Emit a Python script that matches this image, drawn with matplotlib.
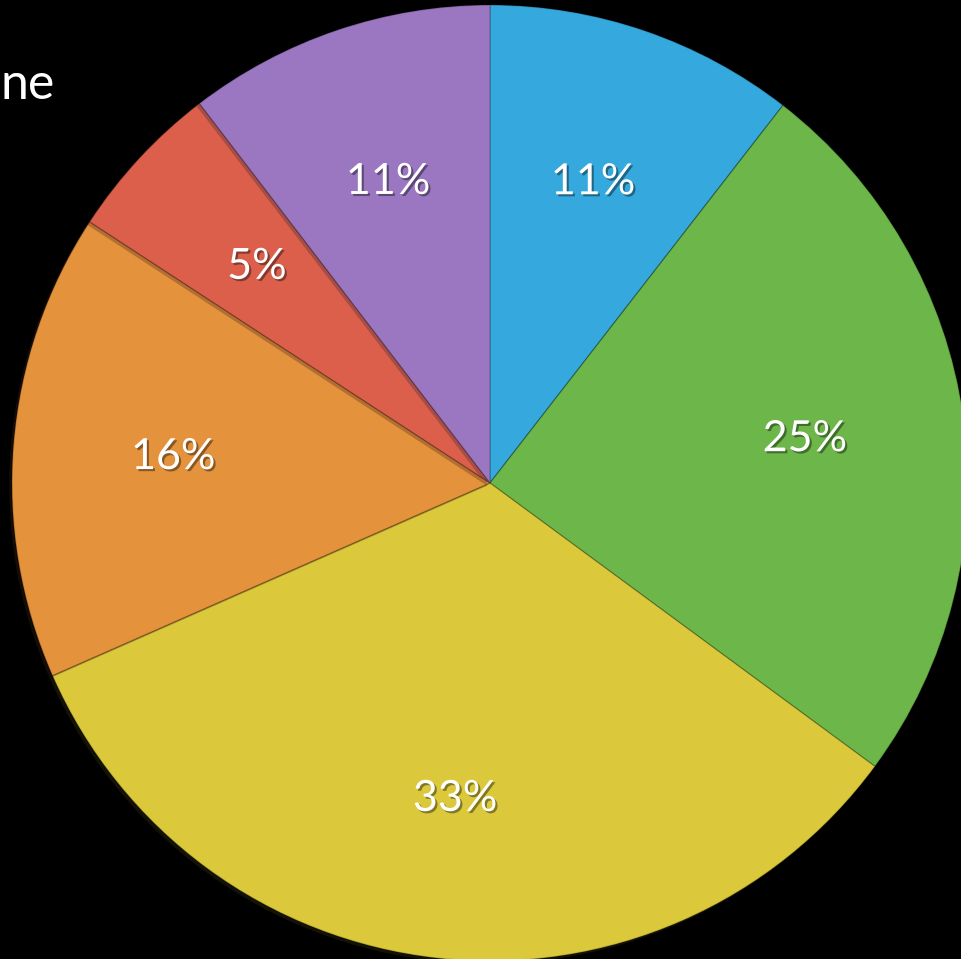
import matplotlib.pyplot as plt
import matplotlib.patheffects as pe

labels = ["11%", "25%", "33%", "16%", "5%", "11%"]
values = [10.5, 24.6, 33.3, 15.8, 5.4, 10.4]
colors = ["#35a9de", "#6cb64a", "#dbc93b", "#e5923d", "#db5f4b", "#9b77c1"]

W, H = 962, 959
fig = plt.figure(figsize=(W / 100, H / 100), dpi=100, facecolor="black")
ax = fig.add_axes([0, 0, 1, 1])
ax.set_facecolor("black")

# pie centre / radius in pixels (y measured from bottom)
cx, cy, r = 490, H - 483, 478

wedges, texts, autotexts = ax.pie(
    values, colors=colors, startangle=90, counterclock=False,
    center=(cx, cy), radius=r, autopct="%1.0f%%", pctdistance=0.665,
    wedgeprops=dict(linewidth=1.0, edgecolor=(0, 0, 0, 0.2)),
    frame=True,
)
for w in wedges:
    w.set_path_effects([pe.SimplePatchShadow(offset=(-2, -2), alpha=0.3), pe.Normal()])

for t, lab in zip(autotexts, labels):
    t.set_text(lab)
    t.set_color("white")
    t.set_fontsize(31)
    t.set_family(["Lato", "DejaVu Sans"])
    t.set_path_effects([pe.withSimplePatchShadow(offset=(1.5, -1.5), shadow_rgbFace="black", alpha=0.4)])

ax.text(0, H - 85, "ne", color="white", fontsize=36, family=["Lato", "DejaVu Sans"],
        ha="left", va="center")

ax.set_xlim(0, W)
ax.set_ylim(0, H)
ax.set_aspect("equal")
ax.axis("off")

fig.savefig("out.png", dpi=100, facecolor="black")
